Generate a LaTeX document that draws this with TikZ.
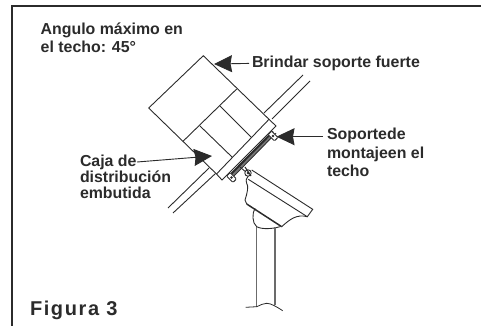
\documentclass[tikz,border=0pt]{standalone}
\usepackage{fontspec}
\setmainfont{Liberation Sans}
\usetikzlibrary{arrows.meta}
\definecolor{ink}{HTML}{2B2B2B}
\tikzset{
  ln/.style={draw=ink,line width=0.9pt,line join=miter},
  frameline/.style={draw=ink,line width=2pt},
  lbl/.style={inner sep=0pt,outer sep=0pt,text=ink,align=left,anchor=north west,font=\fontsize{15.9}{18.5}\selectfont\bfseries},
  leader/.style={draw=ink,line width=0.9pt,-{Stealth[length=18pt,width=17pt,inset=1.5pt]}},
  polel/.style={draw=ink!70,line width=1.3pt}
}
\begin{document}
\begin{tikzpicture}[x=1pt,y=-1pt]
\useasboundingbox (0,0) rectangle (481,326);
% frame (cropped: only top and left visible)
\draw[frameline] (12,326) -- (12,6.5) -- (481,6.5);
% labels
\node[lbl] (angulo) at (40.7,22.5) {Angulo máximo en\\el techo: 45°};
\node[lbl] (brindar) at (252,56) {Brindar soporte fuerte};
\node[lbl] (soporte) at (327,128) {Soportede\\montajeen el\\techo};
\node[lbl,font=\fontsize{15.9}{16}\selectfont\bfseries] (caja) at (80,155) {Caja de\\distribución\\embutida};
\node[lbl,font=\fontsize{20}{20}\selectfont\bfseries,anchor=base west] (figura) at (30,315) {F\kern1.6pt i\kern1.6pt g\kern1.6pt u\kern1.6pt r\kern1.6pt a\kern1.6pt\ 3};
% roof lines
\draw[ln] (303,75) -- (264,113);
\draw[ln] (310,81) -- (272,119);
\draw[ln] (168,208) -- (209,168);
\draw[ln] (173,213) -- (215.5,173.5);
% box and plate
\coordinate (bt) at (203.3,55.7);
\coordinate (bl) at (148.7,108);
\coordinate (pa) at (269,119.3);
\coordinate (pb) at (276,126);
\coordinate (pc) at (222,180);
\coordinate (pd) at (216.5,174);
\draw[ln] (pd) -- (bl) -- (bt) -- (pa) -- (pb) -- (pc) -- (pd) -- cycle;
\draw[ln] (pa) -- (pd);
\draw[ln] (236.7,89) -- (183.3,141);
\draw[ln] (220,106) -- (251.7,137.7);
\draw[ln] (200,126) -- (232.3,157.3);
% mounting bracket
\draw[draw=ink!65,line width=4pt] (274,133) -- (232.5,175);
\draw[draw=ink,line width=2pt] (273,131.5) -- (231,174);
\draw[draw=ink,line width=0.7pt] (276,133) -- (234,176);
\draw[ln,fill=white,rounded corners=1pt,rotate around={-45:(273,136)}] (268.5,133.5) rectangle (277.5,138.5);
\fill[ink] (273,136) circle (1.3pt);
\draw[ln,fill=white,rounded corners=1pt,rotate around={-45:(231.5,177.5)}] (227,175) rectangle (236,180);
\fill[ink] (231.5,177.5) circle (1.3pt);
% gutter
\draw[ln] (240,167) -- (247,173);
\draw[ln] (251.7,170) -- (312.7,209.3) -- (307.3,216.7) -- (248.3,179.3);
\draw[ln] (307.3,216.7) .. controls (297,214) and (290,219) .. (281.7,226.7);
\draw[draw=ink,line width=1.5pt] (281.7,226.7) -- (246.7,204);
\draw[ln] (246.7,204) -- (245,200) .. controls (247,194) and (249,186) .. (246.7,183.3) .. controls (245.5,180) and (246.5,178) .. (248.3,176);
\draw[ln,fill=white] (248,173) circle (3.2pt);
\fill[ink] (248,173) circle (1.5pt);
\draw[ink,line width=1pt] (245,167) -- (251,176);
\draw[ln] (255,208.3) .. controls (252,213) and (252,223) .. (256.7,226.7) .. controls (262,229.5) and (272,229) .. (280,226.7);
% pole
\draw[polel] (256.7,226.7) -- (256.7,306.7);
\draw[polel] (275,227) -- (275,305);
\draw[draw=ink,line width=0.8pt] (245.7,307.3) -- (256.7,306.7) .. controls (261,305) and (263,303.3) .. (266.7,303.3) .. controls (271,303.3) and (277,307) .. (282.7,310.7);
% leaders
\coordinate (tipA) at (214,64);
\coordinate (tipB) at (276.5,136.7);
\coordinate (tipC) at (212,156);
\coordinate (startC) at (137,162);
\draw[leader] ([xshift=-3pt]brindar.west) -- (tipA);
\draw[leader] ([xshift=-4pt]soporte.north west |- tipB) -- (tipB);
\draw[leader] (startC) -- (tipC);
\end{tikzpicture}
\end{document}
